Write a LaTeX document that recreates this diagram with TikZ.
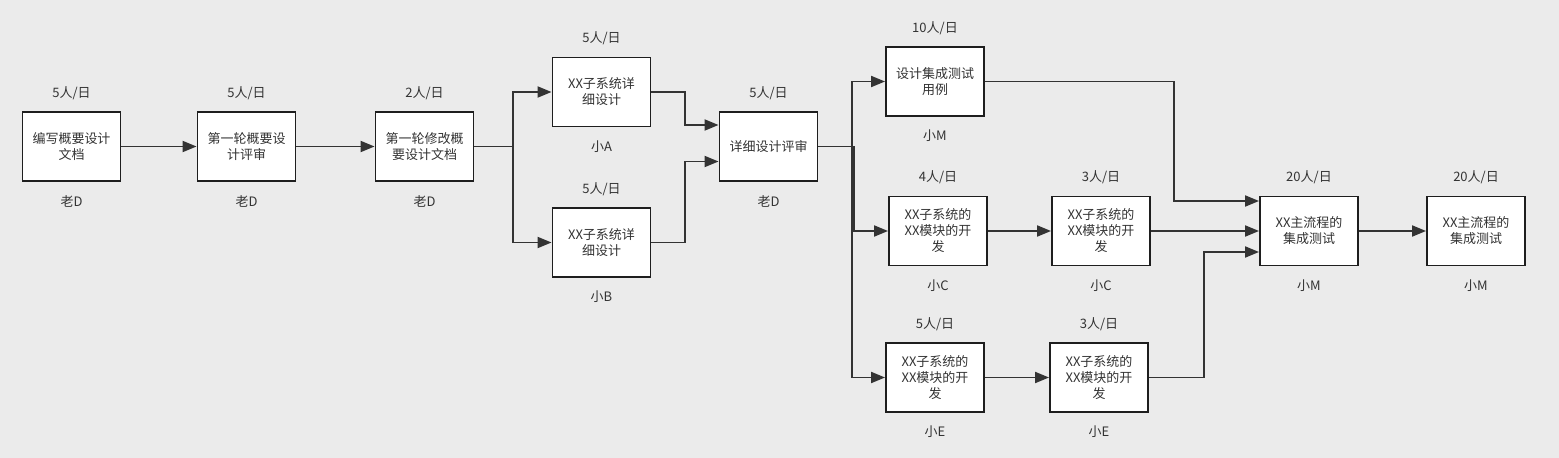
\documentclass[tikz,border=0pt]{standalone}
\usepackage{fontspec}
\setmainfont{Noto Sans CJK SC}
\usetikzlibrary{arrows.meta,calc}
\definecolor{bg}{HTML}{EBEBEB}
\definecolor{ln}{HTML}{333333}
\definecolor{bd}{HTML}{1E1E1E}
\definecolor{tx}{HTML}{333333}
\tikzset{
  task/.style={draw=bd, line width=1.9pt, fill=white, minimum width=98pt, minimum height=69pt,
    inner sep=0pt, align=center, font=\fontsize{13}{16}\selectfont, text=tx},
  lbl/.style={font=\fontsize{13}{15}\selectfont, text=tx, inner sep=0pt},
  arr/.style={draw=ln, line width=1.9pt, -{Triangle[length=14pt,width=11pt]}},
}
\begin{document}
\begin{tikzpicture}[x=1pt,y=-1pt]
\fill[bg] (0,0) rectangle (1559,458);
\useasboundingbox (0,0) rectangle (1559,458);
% tasks
\node[task] (n1) at (71.5,146.5) {编写概要设计\\文档};
\node[task] (n2) at (246.5,146.5) {第一轮概要设\\计评审};
\node[task] (n3) at (424.5,146.5) {第一轮修改概\\要设计文档};
\node[task] (nA) at (601.5,92) {XX子系统详\\细设计};
\node[task] (nB) at (601.5,242.5) {XX子系统详\\细设计};
\node[task] (nR) at (768.5,146.5) {详细设计评审};
\node[task] (nM) at (935,81.5) {设计集成测试\\用例};
\node[task] (nC1) at (938,231) {XX子系统的\\XX模块的开\\发};
\node[task] (nC2) at (1101,231) {XX子系统的\\XX模块的开\\发};
\node[task] (nE1) at (935,377.5) {XX子系统的\\XX模块的开\\发};
\node[task] (nE2) at (1099,377.5) {XX子系统的\\XX模块的开\\发};
\node[task] (nI) at (1309,231) {XX主流程的\\集成测试};
\node[task] (nF) at (1476,231) {XX主流程的\\集成测试};
% labels
\foreach \n/\top/\bot in {n1/5人\slash 日/老D, n2/5人\slash 日/老D, n3/2人\slash 日/老D,
  nA/5人\slash 日/小A, nB/5人\slash 日/小B, nR/5人\slash 日/老D, nM/10人\slash 日/小M,
  nC1/4人\slash 日/小C, nC2/3人\slash 日/小C, nE1/5人\slash 日/小E, nE2/3人\slash 日/小E,
  nI/20人\slash 日/小M, nF/20人\slash 日/小M}{
  \node[lbl] (\n-t) at ($(\n)+(0,-53.5)$) {\top};
  \node[lbl] (\n-b) at ($(\n)+(0,54.5)$) {\bot};
}
% bend points
\coordinate (f3) at (513,146.5);
\coordinate (jA) at (685,92);
\coordinate (jB) at (685,242.5);
\coordinate (fR) at (852,146.5);
\coordinate (fR2) at (854,146.5);
\coordinate (jM) at (1174,81.5);
\coordinate (jE) at (1204,377.5);
% connectors
\draw[arr] (n1.east) -- (n2.west);
\draw[arr] (n2.east) -- (n3.west);
\draw[arr] (n3.east) -- (f3) |- (nA.west);
\draw[arr] (n3.east) -- (f3) |- (nB.west);
\draw[arr] (nA.east) -- (jA) |- ($(nR.west)+(0,-21.5)$);
\draw[arr] (nB.east) -- (jB) |- ($(nR.west)+(0,15)$);
\draw[arr] (nR.east) -- (fR) |- (nM.west);
\draw[arr] (nR.east) -- (fR2) |- (nC1.west);
\draw[arr] (nR.east) -- (fR) |- (nE1.west);
\draw[arr] (nC1.east) -- (nC2.west);
\draw[arr] (nE1.east) -- (nE2.west);
\draw[arr] (nC2.east) -- (nI.west);
\draw[arr] (nM.east) -- (jM) |- ($(nI.west)+(0,-30)$);
\draw[arr] (nE2.east) -- (jE) |- ($(nI.west)+(0,21)$);
\draw[arr] (nI.east) -- (nF.west);
\end{tikzpicture}
\end{document}
